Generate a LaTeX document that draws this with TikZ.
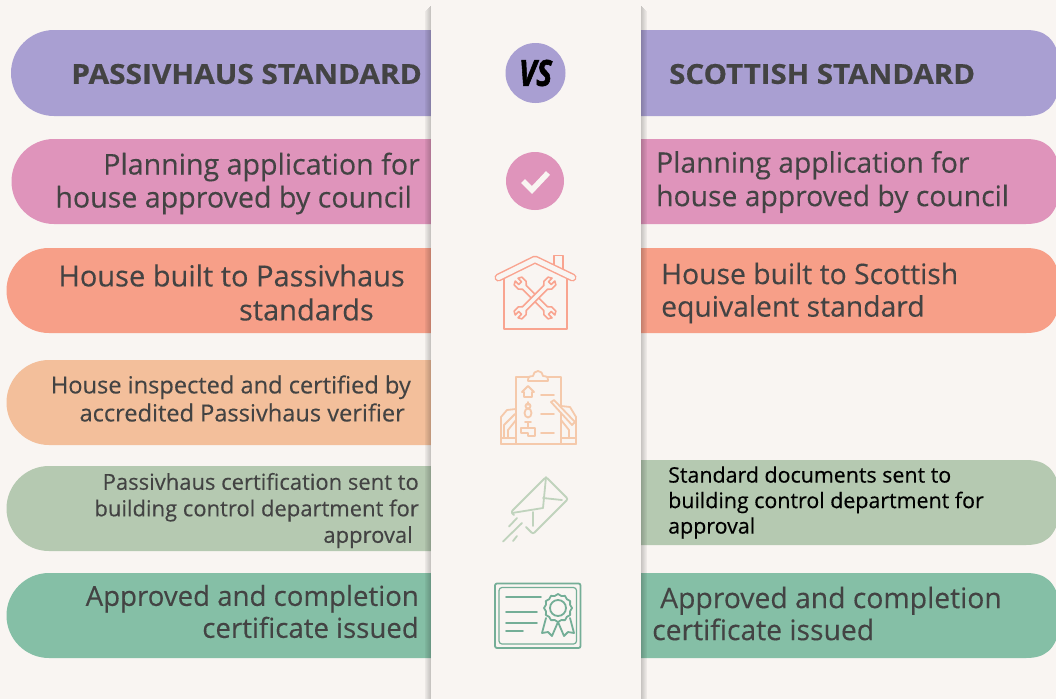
\documentclass[tikz,border=0pt]{standalone}
\usepackage{fontspec}
\setmainfont[FakeBold=0.25,BoldFont={Open Sans Bold},BoldFeatures={FakeBold=0.5},ItalicFont={Open Sans Italic},BoldItalicFont={Open Sans Bold Italic},BoldItalicFeatures={FakeBold=1.8}]{Open Sans}
\usetikzlibrary{calc}
\definecolor{bgc}{HTML}{F9F5F2}
\definecolor{cpur}{HTML}{A99FD2}
\definecolor{cpink}{HTML}{DF94BB}
\definecolor{csal}{HTML}{F79F88}
\definecolor{cpea}{HTML}{F3BF9B}
\definecolor{cgre}{HTML}{B5C9B1}
\definecolor{ctea}{HTML}{85BFA6}
\definecolor{txt}{HTML}{434343}
\definecolor{icsal}{HTML}{F9A490}
\definecolor{icpea}{HTML}{F5C9AB}
\definecolor{icgre}{HTML}{C0D3BD}
\definecolor{ictea}{HTML}{74AE97}
\newcommand{\barL}[5]{\fill[#5] (431,#2) -- (#1+43,#2) arc[start angle=270,end angle=90,radius=#3/2] -- (431,#2+#3) -- cycle;}
\newcommand{\barR}[4]{\fill[#4] (640,#1) -- (1056-30,#1) .. controls (1045,#1) and (1056,#1+8) .. (1060,#1+#2/2-10) -- (1060,#1+#2/2+10) .. controls (1056,#1+#2-8) and (1045,#1+#2) .. (1026,#1+#2) -- (640,#1+#2) -- cycle;}
\newcommand{\sz}[2]{\fontsize{#1}{#2}\selectfont}
\tikzset{
  rtext/.style={anchor=east,align=right,text=txt,inner sep=0pt},
  ltext/.style={anchor=west,align=left,text=txt,inner sep=0pt},
  iconline/.style={line width=1.8pt,line cap=round,line join=round},
}
\newcommand{\wrench}[1]{%
 \begin{scope}[shift={(535,298)},rotate=#1]
  \draw[iconline,icsal,line width=1.6pt,fill=bgc]
    (-2.6,-15) -- (-2.6,15) -- (-5.5,18) -- (-5.5,24) -- (-2,26) -- (-2,21) -- (2,21) -- (2,26) -- (5.5,24) -- (5.5,18) -- (2.6,15)
    -- (2.6,-15) -- (5.5,-18) -- (5.5,-24) -- (2,-26) -- (2,-21) -- (-2,-21) -- (-2,-26) -- (-5.5,-24) -- (-5.5,-18) -- cycle;
 \end{scope}}
\begin{document}
\begin{tikzpicture}[x=1pt,y=-1pt]
\useasboundingbox (0,0) rectangle (1056,699);
\fill[bgc] (0,0) rectangle (1056,699);
% bars
\barL{11}{30}{86}{0}{cpur}
\barL{11}{139}{85}{0}{cpink}
\barL{6}{248}{85}{0}{csal}
\barL{6}{360}{85}{0}{cpea}
\barL{6}{466}{85}{0}{cgre}
\barL{6}{573}{85}{0}{ctea}
\barR{30}{86}{}{cpur}
\barR{139}{85}{}{cpink}
\barR{248}{85}{}{csal}
\barR{460}{85}{}{cgre}
\barR{573}{85}{}{ctea}
% panel shadow
\foreach \i/\o in {1/.05,2/.08,3/.11,4/.14,5/.17,6/.2}{
  \fill[black,opacity=\o] (424+\i,{12-\i}) rectangle (425+\i,699);
  \fill[black,opacity=\o] (647-\i,{12-\i}) rectangle (648-\i,699);
}
\fill[bgc] (431,0) rectangle (641,699);
% left texts
\node[rtext,font=\sz{27.5}{34}\bfseries,xscale=1.085] (h1) at (422,74) {PASSIVHAUS STANDARD};
\node[rtext,font=\sz{28.6}{33}] (l1) at (420,183.5) {Planning application for\\house approved by council\hspace{8pt}\null};
\node[rtext,font=\sz{29}{34}] (l2) at (405,292.5) {House built to Passivhaus\\standards\hspace{31pt}\null};
\node[rtext,font=\sz{23.6}{28}] (l3) at (411,398.5) {House inspected and certified by\\accredited Passivhaus verifier\hspace{6pt}\null};
\node[rtext,font=\sz{22}{26.5}] (l4) at (419,510.5) {Passivhaus certification sent to\\building control department for\\approval\hspace{6pt}\null};
\node[rtext,font=\sz{27.6}{32}] (l5) at (419,611.5) {Approved and completion\\certificate issued};
% right texts
\node[ltext,font=\sz{27.5}{34}\bfseries,xscale=1.07] (h2) at (669,74) {SCOTTISH STANDARD};
\node[ltext,font=\sz{28.3}{33.5}] (r1) at (656,182) {Planning application for\\house approved by council};
\node[ltext,font=\sz{28.3}{32.5}] (r2) at (661,293) {House built to Scottish\\equivalent standard};
\node[ltext,font=\sz{21.4}{25.5}\addfontfeatures{FakeBold=0.4},text=black] (r4) at (668,502.5) {Standard documents sent to\\building control department for\\approval};
\node[ltext,font=\sz{28.3}{32}] (r5) at (652,613.5) {\hspace{8pt}Approved and completion\\certificate issued};
% VS
\node[circle,fill=cpur,minimum size=60pt,inner sep=0pt] (vs) at (535.5,73) {};
\node[font=\sz{36}{36}\bfseries\itshape,text=black,xscale=.82,inner sep=0pt] (vst) at (535.5,73) {VS};
% check
\node[circle,fill=cpink,minimum size=58pt,inner sep=0pt] (ck) at (535,181) {};
\draw[bgc,line width=5.5pt] (523,181) -- (532,190) -- (548,173);
% house
\begin{scope}[iconline,icsal]
 \draw (554,265) -- (554,255.5) -- (563,255.5) -- (563,270);
 \draw (504,279) -- (504,329) -- (567,329) -- (567,279);
 \draw[line width=8pt] (498.5,277.5) -- (535,259.5) -- (572.5,277.5);
 \draw[line width=5pt,bgc] (498.5,277.5) -- (535,259.5) -- (572.5,277.5);
\end{scope}
\wrench{45}
\wrench{-45}
% clipboard
\begin{scope}[iconline,icpea]
 \draw (516,377) rectangle (561,444);
 \draw[fill=bgc] (528,380) .. controls (528,376) and (531,376) .. (533,376) arc[start angle=180,end angle=360,radius=5] .. controls (545,376) and (548,376) .. (548,380) -- (548,381) -- (528,381) -- cycle;
 \draw (501,444) -- (501,417) -- (507,410) -- (516,409);
 \draw (501,438) -- (516,438) (504,438) -- (504,425) -- (515,414) (516,420) -- (508,430) -- (508,438);
 \draw (576,444) -- (576,417) -- (570,407) -- (561,406);
 \draw (561,438) -- (576,438) (561,420) -- (569,430) -- (569,438);
 \draw[fill=bgc] (551,402) -- (554,400) -- (575,422) -- (572,425) -- cycle;
 \draw (501,444) -- (576,444);
 \draw (528,386) -- (534,392) -- (532,392) -- (532,397) -- (524,397) -- (524,392) -- (522,392) -- cycle;
 \draw (528,402) -- (528,405) (528,406) circle[radius=2.5] (528,413) ellipse[x radius=3.5,y radius=4.5];
 \draw (525,422) -- (531,422) (528,422) -- (528,428) -- (535,428) -- (535,436) -- (528,436) -- (528,433) -- (521,433) -- (521,428) -- (528,428);
 \draw (541,395) -- (554,395) (541,414) -- (554,414) (541,433) -- (554,433);
\end{scope}
% envelope
\begin{scope}[iconline,icgre]
 \draw[rounded corners=2pt] (526,527) -- (533,534) -- (568,499) -- (546,477) -- (511,512) -- (514,515);
 \draw (546,477) -- (543,508) -- (512,513);
 \draw (543,498) -- (562,500) (533,512) -- (533,526);
 \draw (522,523) -- (503,541.5) (517,518) -- (509,526.5) (517,536) -- (513,541);
\end{scope}
% certificate
\begin{scope}[iconline,ictea]
 \draw[rounded corners=2pt] (495,583.5) rectangle (580.5,648);
 \draw[line width=1.2pt,rounded corners=3pt] (499,587.5) rectangle (576.5,644);
 \draw (506,597) -- (541,597) (506,612) -- (537,612) (506,623) -- (537,623) (506,631) -- (523,631);
 \draw[fill=bgc] (546,618) -- (542,633) -- (548,632) -- (552,636) -- (558,622) -- (564,636) -- (568,632) -- (574,633) -- (570,618);
 \draw[fill=bgc] (558,594) \foreach \a in {0,30,...,330}{ -- ({558+14*sin(\a)},{608-14*cos(\a)}) -- ({558+12.5*sin(\a+15)},{608-12.5*cos(\a+15)}) } -- cycle;
 \draw (558,608) circle[radius=8];
\end{scope}
\end{tikzpicture}
\end{document}
